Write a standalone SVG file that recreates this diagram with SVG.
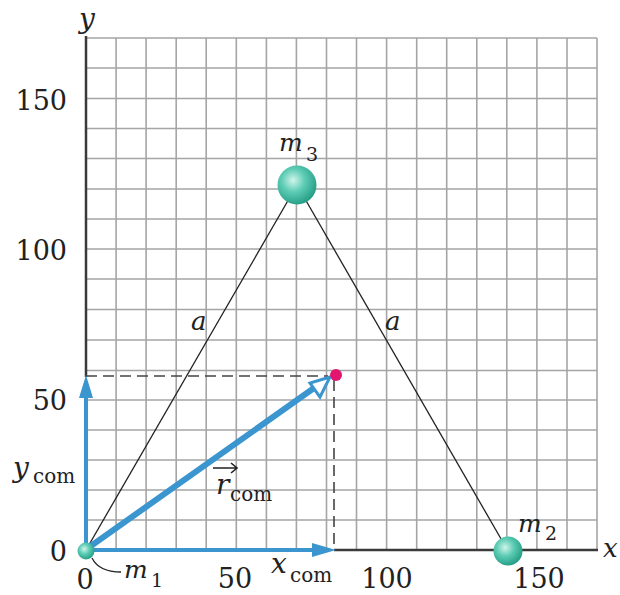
<svg xmlns="http://www.w3.org/2000/svg" width="620" height="595" viewBox="0 0 620 595">
<style>
.grid line{stroke:#a5a5a5;stroke-width:1.6}
.axis{stroke:#3a3a3a;stroke-width:2.5;fill:none}
.side{stroke:#222;stroke-width:1.3;fill:none}
.dash{stroke:#444;stroke-width:1.6;stroke-dasharray:11 6;fill:none}
.vec{stroke:#3b95cf;fill:none}
.it{font-style:italic}
</style>
<defs>
<radialGradient id="ball" cx="0.4" cy="0.38" r="0.65">
<stop offset="0" stop-color="#d2f4ec"/>
<stop offset="0.45" stop-color="#5fcdb5"/>
<stop offset="1" stop-color="#249c85"/>
</radialGradient>
</defs>
<rect width="620" height="595" fill="#fff"/>
<g id="grid" class="grid">
<line x1="116.1" y1="38" x2="116.1" y2="550"/><line x1="146.1" y1="38" x2="146.1" y2="550"/><line x1="176.2" y1="38" x2="176.2" y2="550"/><line x1="206.2" y1="38" x2="206.2" y2="550"/><line x1="236.3" y1="38" x2="236.3" y2="550"/><line x1="266.4" y1="38" x2="266.4" y2="550"/><line x1="296.4" y1="38" x2="296.4" y2="550"/><line x1="326.5" y1="38" x2="326.5" y2="550"/><line x1="356.5" y1="38" x2="356.5" y2="550"/><line x1="386.6" y1="38" x2="386.6" y2="550"/><line x1="416.7" y1="38" x2="416.7" y2="550"/><line x1="446.7" y1="38" x2="446.7" y2="550"/><line x1="476.8" y1="38" x2="476.8" y2="550"/><line x1="506.8" y1="38" x2="506.8" y2="550"/><line x1="536.9" y1="38" x2="536.9" y2="550"/><line x1="567" y1="38" x2="567" y2="550"/><line x1="597" y1="38" x2="597" y2="550"/>
<line x1="86" y1="520" x2="597" y2="520"/><line x1="86" y1="490" x2="597" y2="490"/><line x1="86" y1="460" x2="597" y2="460"/><line x1="86" y1="430" x2="597" y2="430"/><line x1="86" y1="400" x2="597" y2="400"/><line x1="86" y1="370.5" x2="597" y2="370.5"/><line x1="86" y1="340" x2="597" y2="340"/><line x1="86" y1="309.5" x2="597" y2="309.5"/><line x1="86" y1="279" x2="597" y2="279"/><line x1="86" y1="249" x2="597" y2="249"/><line x1="86" y1="219" x2="597" y2="219"/><line x1="86" y1="189" x2="597" y2="189"/><line x1="86" y1="158.5" x2="597" y2="158.5"/><line x1="86" y1="128.5" x2="597" y2="128.5"/><line x1="86" y1="98.5" x2="597" y2="98.5"/><line x1="86" y1="68" x2="597" y2="68"/><line x1="86" y1="38" x2="597" y2="38"/>
</g>
<g font-family="DejaVu Serif, serif" fill="#222">
<g id="axes">
<line class="axis" x1="86" y1="36" x2="86" y2="377"/>
<line class="axis" x1="334" y1="550" x2="598" y2="550"/>
<text class="it" x="79" y="28" font-size="28">y</text>
<text class="it" x="603" y="557" font-size="26">x</text>
<text x="67" y="110" text-anchor="end" font-size="27">150</text>
<text x="67" y="260" text-anchor="end" font-size="27">100</text>
<text x="67" y="410" text-anchor="end" font-size="27">50</text>
<text x="67" y="561" text-anchor="end" font-size="27">0</text>
<text x="85" y="589" text-anchor="middle" font-size="27">0</text>
<text x="235" y="588" text-anchor="middle" font-size="27">50</text>
<text x="387" y="588" text-anchor="middle" font-size="27">100</text>
<text x="539" y="588" text-anchor="middle" font-size="27">150</text>
</g>
<g id="connectors">
<line class="side" x1="86" y1="550" x2="297" y2="185"/>
<line class="side" x1="297" y1="185" x2="508" y2="551"/>
<line class="dash" x1="86" y1="376" x2="328" y2="376"/>
<line class="dash" x1="334" y1="380" x2="334" y2="550"/>
<line class="vec" x1="86" y1="550" x2="316" y2="550" stroke-width="4"/>
<polygon points="336,550 312,543 312,557" fill="#3b95cf"/>
<line class="vec" x1="86" y1="550" x2="86" y2="394" stroke-width="4"/>
<polygon points="86,375 79,398 93,398" fill="#3b95cf"/>
<line class="vec" x1="88" y1="548" x2="314" y2="388" stroke-width="6"/>
<polygon points="330,377 310,383 320,397" fill="#fff" stroke="#3b95cf" stroke-width="3"/>
</g>
<g id="m1">
<circle cx="86" cy="551" r="8.5" fill="url(#ball)"/>
<path class="side" d="M92,558 Q99,572 121,572"/>
<text class="it" x="124" y="578" font-size="25">m</text><text x="151" y="587" font-size="19">1</text>
</g>
<g id="m2">
<circle cx="508" cy="551" r="14.5" fill="url(#ball)"/>
<text class="it" x="518" y="532" font-size="25">m</text><text x="545" y="540" font-size="19">2</text>
</g>
<g id="m3">
<circle cx="297" cy="185" r="19.5" fill="url(#ball)"/>
<text class="it" x="279" y="151" font-size="25">m</text><text x="306" y="161" font-size="19">3</text>
</g>
<g id="com">
<circle cx="336" cy="375" r="6" fill="#e2166e"/>
</g>
<g id="labels">
<text class="it" x="191" y="330" font-size="26">a</text>
<text class="it" x="385" y="330" font-size="26">a</text>
<text class="it" x="13" y="477" font-size="28">y</text><text x="33" y="483" font-size="20">com</text>
<text class="it" x="271" y="573" font-size="28">x</text><text x="290" y="582" font-size="20">com</text>
<text class="it" x="216" y="494" font-size="28">r</text><text x="230" y="501" font-size="20">com</text>
<path d="M213,468 H236 M231,463 L237,468 L231,473" stroke="#222" stroke-width="1.6" fill="none"/>
</g>
</g>
</svg>
